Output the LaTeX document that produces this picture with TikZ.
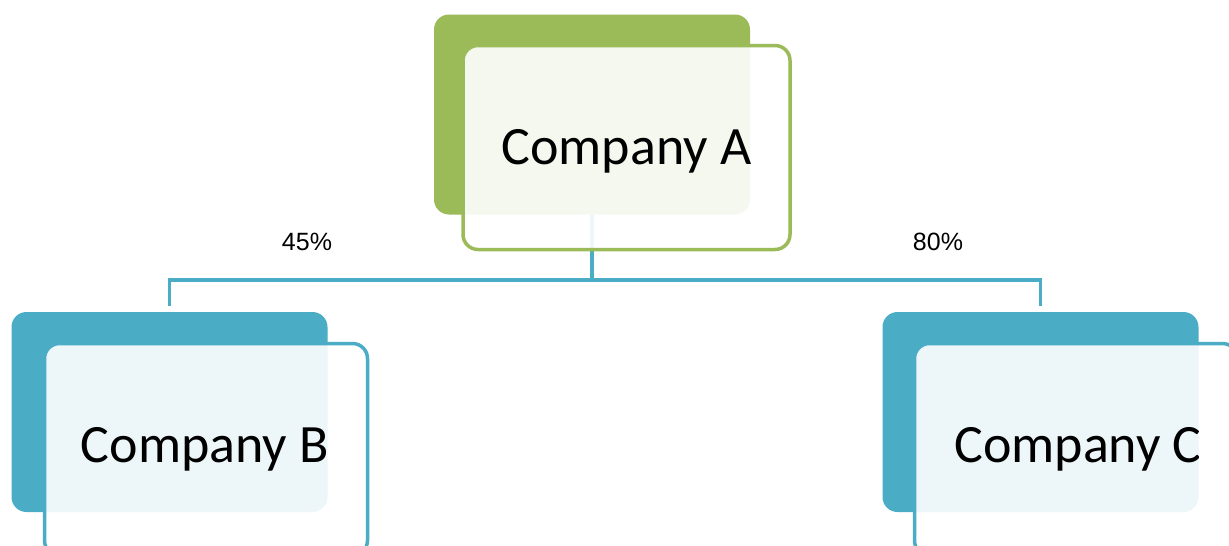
\documentclass[tikz,border=0pt]{standalone}
\usepackage{fontspec}
\setmainfont{Carlito}
\newfontfamily\labfont{Liberation Sans}
\definecolor{grn}{HTML}{9BBB59}
\definecolor{blu}{HTML}{4BACC6}
\begin{document}
\begin{tikzpicture}[x=1pt,y=-1pt,
  backbox/.style={fill=#1, draw=none, rounded corners=15pt, minimum width=316pt, minimum height=200pt, inner sep=0pt},
  frontbox/.style={draw=#1, line width=3.5pt, fill=white, fill opacity=0.9, draw opacity=1, rounded corners=15pt, minimum width=323pt, minimum height=204pt, inner sep=0pt},
  conn/.style={draw=blu, line width=3.5pt},
  cname/.style={font=\fontsize{54}{60}\selectfont, anchor=base, inner sep=0pt, text=black},
  pct/.style={font=\labfont\fontsize{25}{28}\selectfont, inner sep=0pt}]
\useasboundingbox (0,0) rectangle (1229,546);
% back boxes
\node[backbox=grn] (Aback) at (592,114.5) {};
\node[backbox=blu] (Bback) at (169.5,412) {};
\node[backbox=blu] (Cback) at (1040.5,412) {};
% connectors
\coordinate (hub) at (592,280);
\draw[conn] (Aback.south) -- (hub);
\draw[conn] (hub) -| ([yshift=6pt]Bback.north);
\draw[conn] (hub) -| ([yshift=6pt]Cback.north);
% front boxes
\node[frontbox=grn, minimum width=327pt] (Afront) at (626.5,147.5) {};
\node[frontbox=blu, minimum height=212pt] (Bfront) at (206,449.5) {};
\node[frontbox=blu, minimum height=212pt] (Cfront) at (1076,449.5) {};
% texts, clipped to the back boxes
\begin{scope}
\clip (Aback.south west) rectangle (Aback.north east);
\node[cname] (At) at ([yshift=-17pt]Afront.center) {Company A};
\end{scope}
\begin{scope}
\clip (Bback.south west) rectangle (Bback.north east);
\node[cname] (Bt) at (205,462.5) {Company B};
\end{scope}
\begin{scope}
\clip (Cback.south west) rectangle (Cback.north east);
\node[cname] (Ct) at (1078,462.5) {Company C};
\end{scope}
% percentages
\node[pct] (p45) at (307,242) {45\%};
\node[pct] (p80) at (938,242) {80\%};
\end{tikzpicture}
\end{document}
